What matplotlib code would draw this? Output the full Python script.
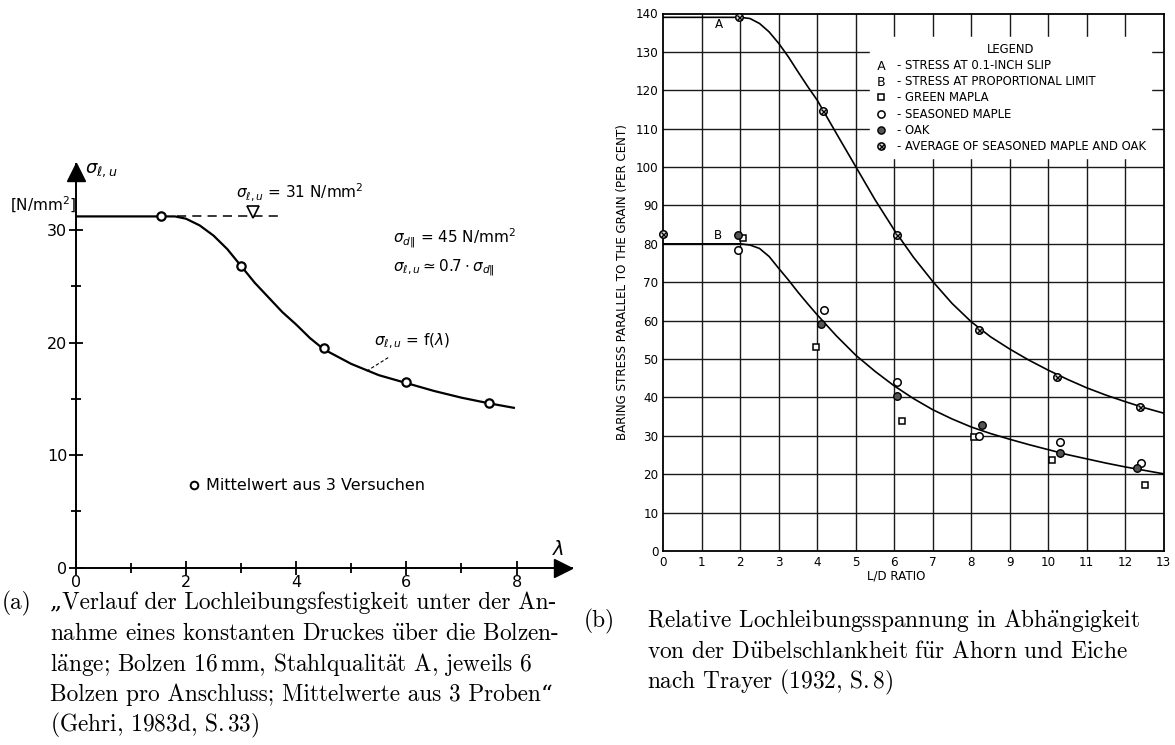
import matplotlib
matplotlib.use('Agg')
import matplotlib.pyplot as plt
from matplotlib import font_manager
from matplotlib.lines import Line2D

# (a) Gehri 1983d - Lochleibungsfestigkeit vs. Schlankheit
lam_pts = [1.55, 3.0, 4.5, 6.0, 7.5]
sig_pts = [31.2, 26.8, 19.5, 16.5, 14.6]
lam_curve = [0, 1.8, 2.0, 2.25, 2.5, 2.75, 3.0, 3.25, 3.5, 3.75, 4.0, 4.25, 4.5,
             5.0, 5.5, 6.0, 6.5, 7.0, 7.5, 7.95]
sig_curve = [31.2, 31.2, 31.0, 30.4, 29.5, 28.3, 26.8, 25.3, 24.0, 22.7, 21.6, 20.4, 19.4,
             18.1, 17.1, 16.4, 15.7, 15.1, 14.6, 14.2]
sig_ref = 31.2
lam_ref = [1.84, 3.67]

# (b) Trayer 1932 - relative bearing stress vs L/D ratio
ld_green = [2.07, 3.96, 6.19, 8.08, 10.09, 12.52]
st_green = [81.6, 53.2, 33.9, 29.7, 23.7, 17.1]
ld_seasoned = [1.95, 4.17, 6.07, 8.2, 10.31, 12.42]
st_seasoned = [78.4, 62.8, 43.9, 30.0, 28.3, 22.8]
ld_oak = [1.95, 4.09, 6.07, 8.28, 10.31, 12.3]
st_oak = [82.3, 59.2, 40.5, 32.8, 25.6, 21.5]
ld_avg = [0.0, 1.97, 4.15, 6.07, 8.21, 10.22, 12.38]
st_avg = [82.6, 139.1, 114.7, 82.3, 57.6, 45.2, 37.6]

curve_a_x = [0, 2.0, 2.25, 2.5, 2.75, 3.0, 3.25, 3.5, 3.75, 4.0, 4.5, 5.0, 5.5, 6.0, 6.5,
             7.0, 7.5, 8.0, 8.5, 9.0, 9.5, 10.0, 10.5, 11.0, 11.5, 12.0, 12.5, 13.0]
curve_a_y = [139, 139, 138.7, 137.4, 135.2, 132.2, 128.7, 124.8, 121.0, 117.4, 108.7, 100.1,
             91.5, 83.6, 76.5, 70.2, 64.5, 59.7, 55.8, 52.6, 49.7, 47.1, 44.7, 42.5, 40.6,
             38.9, 37.3, 35.9]
curve_b_x = [0, 2.0, 2.25, 2.5, 2.75, 3.0, 3.25, 3.5, 3.75, 4.0, 4.5, 5.0, 5.5, 6.0, 6.5,
             7.0, 7.5, 8.0, 8.5, 9.0, 9.5, 10.0, 10.5, 11.0, 11.5, 12.0, 12.5, 13.0]
curve_b_y = [80, 80, 79.7, 78.8, 76.7, 73.6, 70.6, 67.4, 64.4, 61.5, 56.0, 51.0, 46.8, 43.0,
             39.7, 36.8, 34.4, 32.3, 30.6, 29.1, 27.7, 26.4, 25.1, 24.0, 22.9, 21.9, 21.0, 20.1]

legend_labels = ['- STRESS AT 0.1-INCH SLIP', '- STRESS AT PROPORTIONAL LIMIT',
                 '- GREEN MAPLA', '- SEASONED MAPLE', '- OAK',
                 '- AVERAGE OF SEASONED MAPLE AND OAK']

# umlauts and thin spaces written as mathtext so the Computer Modern look is kept
uu = r'$\ddot{\mathrm{u}}$'
aa = r'$\ddot{\mathrm{a}}$'
thin = r'$\,$'
caption_a = ['\u201eVerlauf der Lochleibungsfestigkeit unter der An-',
             'nahme eines konstanten Druckes ' + uu + 'ber die Bolzen-',
             'l' + aa + 'nge; Bolzen 16' + thin + 'mm, Stahlqualit' + aa + 't A, jeweils 6',
             'Bolzen pro Anschluss; Mittelwerte aus 3 Proben\u201c',
             '(Gehri, 1983d, S.' + thin + '33)']
caption_b = ['Relative Lochleibungsspannung in Abh' + aa + 'ngigkeit',
             'von der D' + uu + 'belschlankheit f' + uu + 'r Ahorn und Eiche',
             'nach Trayer (1932, S.' + thin + '8)']

names = {f.name for f in font_manager.fontManager.ttflist}
serif = ['cmr10', 'DejaVu Serif'] if 'cmr10' in names else ['DejaVu Serif']
plt.rcParams['font.family'] = ['DejaVu Sans']
plt.rcParams['mathtext.fontset'] = 'dejavusans'

fig = plt.figure(figsize=(11.75, 7.45), dpi=100)
W, H = 1175, 745

# ---------------- panel (a) ----------------
ax1 = fig.add_axes([75.7 / W, (H - 567.7) / H, 496 / W, 404.2 / H])
ax1.set_xlim(0, 9.0)
ax1.set_ylim(0, 35.9)
for s in ['top', 'right']:
    ax1.spines[s].set_visible(False)
for s in ['left', 'bottom']:
    ax1.spines[s].set_linewidth(1.4)
ax1.set_xticks([0, 2, 4, 6, 8])
ax1.set_xticks([1, 3, 5, 7], minor=True)
ax1.set_yticks([0, 10, 20, 30])
ax1.set_yticks([5, 15, 25], minor=True)
ax1.tick_params(which='both', direction='inout', length=10, width=1.3, labelsize=11.5)
ax1.tick_params(which='minor', length=7)
ax1.tick_params(axis='x', pad=0.5)
ax1.tick_params(axis='y', pad=1)

ax1.plot(lam_curve, sig_curve, color='k', lw=1.6)
ax1.plot(lam_pts, sig_pts, 'o', ms=6, mfc='white', mec='k', mew=1.6)
ax1.plot(lam_ref, [sig_ref, sig_ref], color='k', lw=1.1, ls=(0, (6, 4)))
ax1.plot([3.22], [sig_ref + 0.42], marker='v', ms=8, mfc='white', mec='k', mew=1.2)

# axis arrows
ax1.plot([0.982], [0], marker='>', ms=13, color='k', transform=ax1.transAxes, clip_on=False)
ax1.plot([0], [0.978], marker='^', ms=13, color='k', transform=ax1.transAxes, clip_on=False)

ax1.text(0.17, 35.3, r'$\sigma_{\ell,u}$', fontsize=13, va='center', ha='left')
ax1.text(-1.19, 32.2, '[N/mm$^2$]', fontsize=11, va='center', ha='left', clip_on=False)
ax1.text(8.75, 1.6, r'$\lambda$', fontsize=14, va='center', ha='center')
ax1.text(2.9, 33.4, r'$\sigma_{\ell,u}$ = 31 N/mm$^2$', fontsize=11, va='center')
ax1.text(5.76, 29.3, r'$\sigma_{d\Vert}$ = 45 N/mm$^2$', fontsize=11, va='center')
ax1.text(5.76, 26.7, r'$\sigma_{\ell,u} \simeq 0.7\cdot\sigma_{d\Vert}$', fontsize=11,
         va='center')
ax1.text(5.41, 20.1, r'$\sigma_{\ell,u}$ = f($\lambda$)', fontsize=11, va='center')
ax1.plot([5.67, 5.28], [18.66, 17.46], color='k', lw=0.8, ls=(0, (3, 2)))
ax1.plot([2.14], [7.31], 'o', ms=5.5, mfc='white', mec='k', mew=1.4)
ax1.text(2.36, 7.31, 'Mittelwert aus 3 Versuchen', fontsize=11.5, va='center')

# ---------------- panel (b) ----------------
ax2 = fig.add_axes([663.3 / W, (H - 551) / H, 500.4 / W, 537.5 / H])
ax2.set_xlim(0, 13)
ax2.set_ylim(0, 140)
ax2.set_xticks(range(0, 14))
ax2.set_yticks(range(0, 141, 10))
ax2.tick_params(length=0, pad=3.5, labelsize=8.6)
for x in range(1, 13):
    ax2.axvline(x, color='#1a1a1a', lw=1.0, zorder=0)
for y in range(10, 140, 10):
    ax2.axhline(y, color='#1a1a1a', lw=1.0, zorder=0)
for s in ax2.spines.values():
    s.set_linewidth(1.3)

ax2.plot(curve_a_x, curve_a_y, color='k', lw=1.2, zorder=2)
ax2.plot(curve_b_x, curve_b_y, color='k', lw=1.2, zorder=2)

mk = dict(ls='none', zorder=3, clip_on=False)
ax2.plot(ld_green, st_green, 's', ms=4.2, mfc='white', mec='k', mew=1.1, **mk)
ax2.plot(ld_seasoned, st_seasoned, 'o', ms=5.4, mfc='white', mec='k', mew=1.1, **mk)
ax2.plot(ld_oak, st_oak, 'o', ms=5.4, mfc='#555555', mec='k', mew=1.0, **mk)
ax2.plot(ld_avg, st_avg, 'o', ms=5.4, mfc='#e0e0e0', mec='k', mew=1.1, **mk)
ax2.plot(ld_avg, st_avg, 'x', ms=3.6, color='k', mew=1.0, **mk)

ax2.text(1.45, 137.1, 'A', fontsize=8.6, ha='center', va='center')
ax2.text(1.42, 82.3, 'B', fontsize=8.6, ha='center', va='center')

h_a = Line2D([], [], ls='none', marker='$\\mathsf{A}$', color='k', ms=6.5, mew=0)
h_b = Line2D([], [], ls='none', marker='$\\mathsf{B}$', color='k', ms=6.5, mew=0)
h_g = Line2D([], [], ls='none', marker='s', ms=4.2, mfc='white', mec='k', mew=1.1)
h_s = Line2D([], [], ls='none', marker='o', ms=5.2, mfc='white', mec='k', mew=1.1)
h_o = Line2D([], [], ls='none', marker='o', ms=5.2, mfc='#555555', mec='k', mew=1.0)
h_v1 = Line2D([], [], ls='none', marker='o', ms=5.2, mfc='#e0e0e0', mec='k', mew=1.1)
h_v2 = Line2D([], [], ls='none', marker='x', ms=3.6, color='k', mew=1.0)
leg = ax2.legend([h_a, h_b, h_g, h_s, h_o, (h_v1, h_v2)], legend_labels,
                 title='LEGEND', loc='upper left', bbox_to_anchor=(5.37 / 13, 133.8 / 140),
                 frameon=True, fancybox=False, edgecolor='white', facecolor='white',
                 framealpha=1.0, borderpad=0.45, labelspacing=0.28, handlelength=0.9,
                 handletextpad=0.95, borderaxespad=0, fontsize=8.4, title_fontsize=8.4)
leg.set_zorder(1)

ax2.set_xlabel('L/D RATIO', fontsize=8.6, va='top')
ax2.xaxis.set_label_coords(0.465, -0.035)
ax2.set_ylabel('BARING STRESS PARALLEL TO THE GRAIN (PER CENT)', fontsize=8.6, labelpad=5)

# ---------------- captions ----------------
cap_size = 16.8
line_h = 30.6
ya, yb = 603, 621
fig.text(2 / W, 1 - ya / H, '(a)', family=serif, fontsize=cap_size, va='center',
         math_fontfamily='cm')
for i, line in enumerate(caption_a):
    fig.text(50 / W, 1 - (ya + i * line_h) / H, line, family=serif, fontsize=cap_size,
             va='center', math_fontfamily='cm')
fig.text(584 / W, 1 - yb / H, '(b)', family=serif, fontsize=cap_size, va='center',
         math_fontfamily='cm')
for i, line in enumerate(caption_b):
    fig.text(647 / W, 1 - (yb + i * line_h) / H, line, family=serif, fontsize=cap_size,
             va='center', math_fontfamily='cm')

fig.savefig('out.png', dpi=100, facecolor='white')
